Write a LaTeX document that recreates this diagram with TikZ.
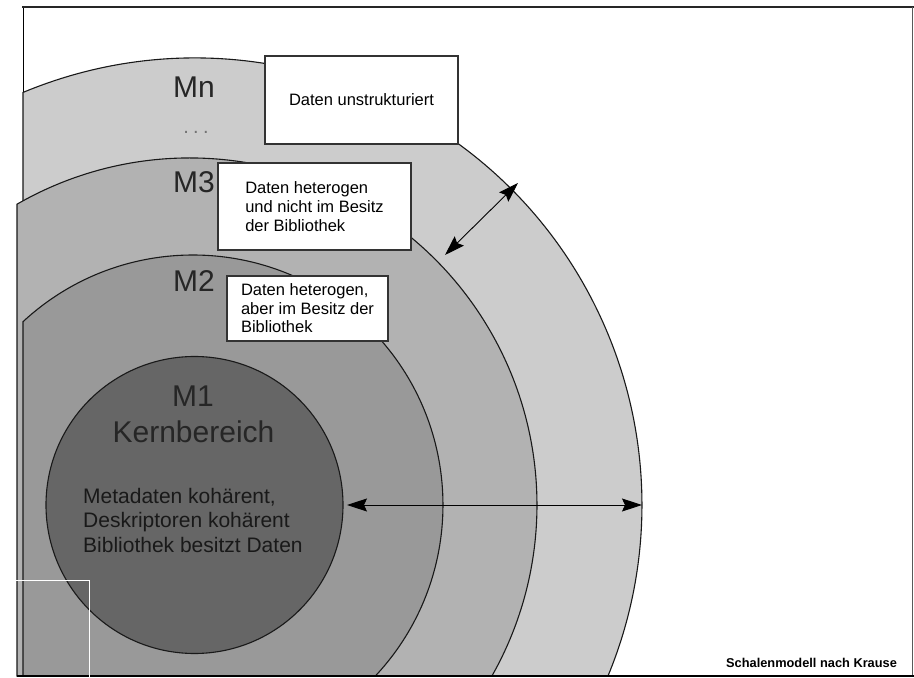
\documentclass[tikz,border=0pt]{standalone}
\usepackage{fontspec}
\setmainfont{Liberation Sans}
\usetikzlibrary{arrows.meta}
\definecolor{ringN}{HTML}{CCCCCC}
\definecolor{ringC}{HTML}{B2B2B2}
\definecolor{ringB}{HTML}{999999}
\definecolor{ringA}{HTML}{666666}
\newcommand{\bxfont}{\fontsize{16.5}{19}\selectfont}
\newcommand{\drawshell}[4]{% cx, r, left clip x, colour
  \pgfmathsetmacro{\shA}{acos((#3-#1)/#2)}%
  \pgfmathsetmacro{\shB}{-asin(171/#2)}%
  \filldraw[shellline, fill=#4] (#3,2) -- ([shift={(#1,173)}]\shA:#2)
    arc[start angle=\shA, end angle=\shB, radius=#2] -- cycle;%
}
\tikzset{
  shellline/.style={draw=black!90, line width=1.1pt},
  box/.style={draw=black!80, line width=1.2pt, fill=white, inner sep=0pt, align=left, font=\bxfont, text=black},
  lbl/.style={font=\fontsize{30}{36}\selectfont, text=black!85, inner sep=0pt, anchor=base},
  body/.style={font=\fontsize{21}{25}\selectfont, text=black!90, inner sep=0pt, anchor=base west},
  dotlbl/.style={font=\fontsize{20}{24}\selectfont, text=black!55, inner sep=0pt, anchor=base},
  caption/.style={font=\fontsize{12.8}{15}\selectfont\bfseries, text=black, inner sep=0pt, anchor=base west},
  dblarrow/.style={line width=0.9pt, draw=black, {Stealth[length=20pt,width=13pt,inset=3pt]}-{Stealth[length=20pt,width=13pt,inset=3pt]}}
}
\begin{document}
\begin{tikzpicture}[x=1pt,y=1pt]
\useasboundingbox (0,0) rectangle (914,678);
\fill[white] (0,0) rectangle (914,678);
% frame
\draw[line width=1pt, black] (23,2) -- (23,671.5);
\draw[line width=2pt, black!85] (22,671) -- (913.5,671);
\draw[line width=1.2pt, black!65] (912.8,671) -- (912.8,2);
% shells
\drawshell{195}{447}{23}{ringN}
\drawshell{190}{347}{17}{ringC}
\drawshell{193}{250}{23}{ringB}
\filldraw[shellline, fill=ringA] (194.5,173) circle[radius=148.5];
\draw[line width=2pt, black] (16.5,2) -- (913.5,2);
% stray white outline
\draw[white, line width=1pt] (0,97) -- (89,97) -- (89,0);
% labels
\node[lbl] (mn) at (194,580) {Mn};
\node[dotlbl] (dots) at (196,544) {.\kern4.4pt.\kern4.4pt.};
\node[lbl] (m3) at (194,485) {M3};
\node[lbl] (m2) at (194,386) {M2};
\node[lbl] (m1) at (193,271) {M1};
\node[lbl] (kern) at (193.5,235) {Kernbereich};
\node[body] (t1) at (83,174) {Metadaten kohärent,};
\node[body] (t2) at (83,150) {Deskriptoren kohärent};
\node[body] (t3) at (83,125) {Bibliothek besitzt Daten};
% boxes
\node[box, minimum width=193, minimum height=88] (b1) at (361.5,578) {Daten unstrukturiert};
\node[box, minimum width=193, minimum height=87] (b2) at (314.5,471.5) {Daten heterogen\\und nicht im Besitz\\der Bibliothek};
\node[box, minimum width=161, minimum height=65, font=\fontsize{16.5}{18.5}\selectfont] (b3) at (307.5,369.5) {Daten heterogen,\\aber im Besitz der\\Bibliothek};
% arrows
\coordinate (h1) at (347,173);
\coordinate (h2) at (642,173);
\coordinate (d1) at (445,423);
\coordinate (d2) at (518,495);
\draw[dblarrow] (h1) -- (h2);
\draw[dblarrow] (d1) -- (d2);
% caption
\node[caption] (cap) at (726,10) {Schalenmodell nach Krause};
\end{tikzpicture}
\end{document}
